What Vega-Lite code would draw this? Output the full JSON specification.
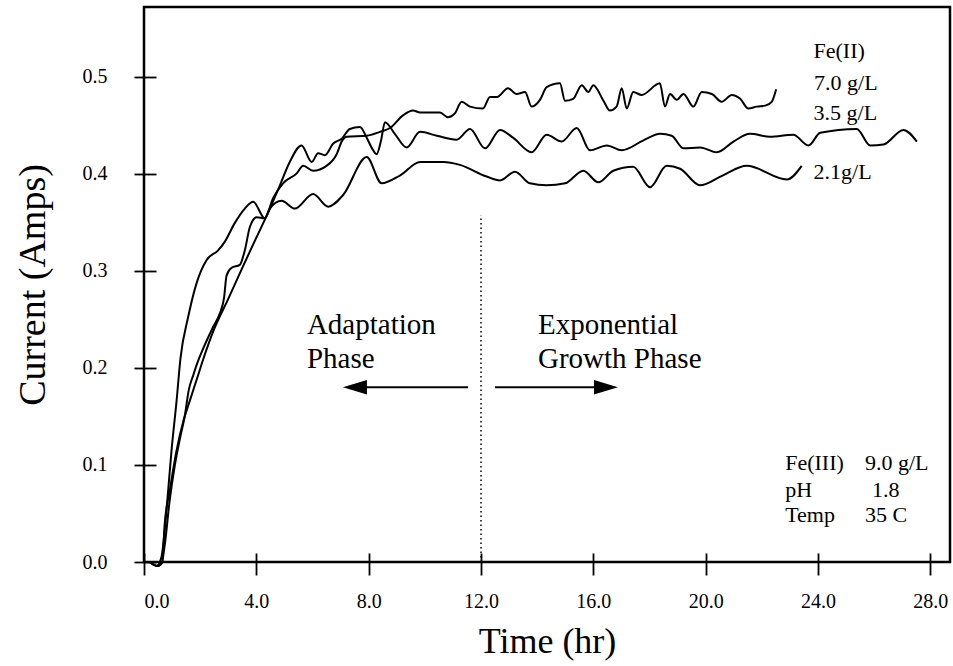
{
  "$schema": "https://vega.github.io/schema/vega-lite/v6.json",
  "width": 806,
  "height": 555,
  "autosize": {"type": "none"},
  "padding": {"left": 144, "top": 7, "right": 3, "bottom": 104},
  "background": "white",
  "config": {
    "view": {"stroke": "black", "strokeWidth": 2.5},
    "font": "Liberation Serif",
    "axis": {"labelFont": "Liberation Serif", "titleFont": "Liberation Serif", "labelColor": "black", "titleColor": "black", "titleFontWeight": "normal", "tickColor": "black", "grid": false}
  },
  "datasets": {
    "curves": [
      {"s": "7.0", "t": 0.2, "i": 0.0}, {"s": "7.0", "t": 0.45, "i": -0.004}, {"s": "7.0", "t": 0.62, "i": -0.002}, {"s": "7.0", "t": 0.75, "i": 0.02}, {"s": "7.0", "t": 0.9, "i": 0.06}, {"s": "7.0", "t": 1.1, "i": 0.1}, {"s": "7.0", "t": 1.3, "i": 0.13}, {"s": "7.0", "t": 1.45, "i": 0.15}, {"s": "7.0", "t": 1.6, "i": 0.178}, {"s": "7.0", "t": 1.75, "i": 0.192}, {"s": "7.0", "t": 1.9, "i": 0.205}, {"s": "7.0", "t": 2.05, "i": 0.216}, {"s": "7.0", "t": 2.46, "i": 0.242}, {"s": "7.0", "t": 2.7, "i": 0.256}, {"s": "7.0", "t": 2.85, "i": 0.272}, {"s": "7.0", "t": 2.94, "i": 0.295}, {"s": "7.0", "t": 3.12, "i": 0.303}, {"s": "7.0", "t": 3.41, "i": 0.306}, {"s": "7.0", "t": 3.59, "i": 0.321}, {"s": "7.0", "t": 3.77, "i": 0.345}, {"s": "7.0", "t": 4.01, "i": 0.355}, {"s": "7.0", "t": 4.3, "i": 0.354}, {"s": "7.0", "t": 4.6, "i": 0.375}, {"s": "7.0", "t": 4.95, "i": 0.39}, {"s": "7.0", "t": 5.43, "i": 0.4}, {"s": "7.0", "t": 5.67, "i": 0.408}, {"s": "7.0", "t": 6.02, "i": 0.403}, {"s": "7.0", "t": 6.5, "i": 0.408}, {"s": "7.0", "t": 6.86, "i": 0.42}, {"s": "7.0", "t": 7.04, "i": 0.433}, {"s": "7.0", "t": 7.21, "i": 0.438}, {"s": "7.0", "t": 7.93, "i": 0.439}, {"s": "7.0", "t": 8.4, "i": 0.443}, {"s": "7.0", "t": 8.76, "i": 0.447}, {"s": "7.0", "t": 9.22, "i": 0.46}, {"s": "7.0", "t": 9.58, "i": 0.465}, {"s": "7.0", "t": 9.83, "i": 0.463}, {"s": "7.0", "t": 10.54, "i": 0.463}, {"s": "7.0", "t": 10.82, "i": 0.458}, {"s": "7.0", "t": 11.07, "i": 0.462}, {"s": "7.0", "t": 11.31, "i": 0.474}, {"s": "7.0", "t": 11.61, "i": 0.469}, {"s": "7.0", "t": 12.07, "i": 0.467}, {"s": "7.0", "t": 12.32, "i": 0.479}, {"s": "7.0", "t": 12.57, "i": 0.479}, {"s": "7.0", "t": 12.96, "i": 0.488}, {"s": "7.0", "t": 13.27, "i": 0.482}, {"s": "7.0", "t": 13.57, "i": 0.484}, {"s": "7.0", "t": 13.8, "i": 0.469}, {"s": "7.0", "t": 14.1, "i": 0.476}, {"s": "7.0", "t": 14.34, "i": 0.489}, {"s": "7.0", "t": 14.81, "i": 0.493}, {"s": "7.0", "t": 14.99, "i": 0.475}, {"s": "7.0", "t": 15.28, "i": 0.477}, {"s": "7.0", "t": 15.59, "i": 0.491}, {"s": "7.0", "t": 15.82, "i": 0.484}, {"s": "7.0", "t": 16.0, "i": 0.491}, {"s": "7.0", "t": 16.36, "i": 0.475}, {"s": "7.0", "t": 16.59, "i": 0.465}, {"s": "7.0", "t": 16.83, "i": 0.469}, {"s": "7.0", "t": 17.01, "i": 0.488}, {"s": "7.0", "t": 17.19, "i": 0.467}, {"s": "7.0", "t": 17.42, "i": 0.484}, {"s": "7.0", "t": 17.72, "i": 0.481}, {"s": "7.0", "t": 18.37, "i": 0.493}, {"s": "7.0", "t": 18.55, "i": 0.469}, {"s": "7.0", "t": 18.73, "i": 0.482}, {"s": "7.0", "t": 18.97, "i": 0.476}, {"s": "7.0", "t": 19.21, "i": 0.482}, {"s": "7.0", "t": 19.56, "i": 0.469}, {"s": "7.0", "t": 19.86, "i": 0.484}, {"s": "7.0", "t": 20.22, "i": 0.482}, {"s": "7.0", "t": 20.57, "i": 0.474}, {"s": "7.0", "t": 20.93, "i": 0.481}, {"s": "7.0", "t": 21.23, "i": 0.477}, {"s": "7.0", "t": 21.52, "i": 0.467}, {"s": "7.0", "t": 21.82, "i": 0.469}, {"s": "7.0", "t": 22.12, "i": 0.47}, {"s": "7.0", "t": 22.35, "i": 0.474}, {"s": "7.0", "t": 22.51, "i": 0.487},
      {"s": "3.5", "t": 0.2, "i": 0.0}, {"s": "3.5", "t": 0.5, "i": -0.004}, {"s": "3.5", "t": 0.65, "i": 0.0}, {"s": "3.5", "t": 0.74, "i": 0.04}, {"s": "3.5", "t": 0.92, "i": 0.074}, {"s": "3.5", "t": 1.16, "i": 0.115}, {"s": "3.5", "t": 1.4, "i": 0.145}, {"s": "3.5", "t": 1.63, "i": 0.166}, {"s": "3.5", "t": 1.9, "i": 0.19}, {"s": "3.5", "t": 2.1, "i": 0.208}, {"s": "3.5", "t": 2.5, "i": 0.24}, {"s": "3.5", "t": 3.0, "i": 0.271}, {"s": "3.5", "t": 3.5, "i": 0.303}, {"s": "3.5", "t": 4.0, "i": 0.334}, {"s": "3.5", "t": 4.5, "i": 0.365}, {"s": "3.5", "t": 4.84, "i": 0.388}, {"s": "3.5", "t": 5.19, "i": 0.412}, {"s": "3.5", "t": 5.61, "i": 0.429}, {"s": "3.5", "t": 5.97, "i": 0.412}, {"s": "3.5", "t": 6.2, "i": 0.421}, {"s": "3.5", "t": 6.44, "i": 0.419}, {"s": "3.5", "t": 6.74, "i": 0.431}, {"s": "3.5", "t": 7.04, "i": 0.436}, {"s": "3.5", "t": 7.33, "i": 0.446}, {"s": "3.5", "t": 7.69, "i": 0.448}, {"s": "3.5", "t": 7.93, "i": 0.437}, {"s": "3.5", "t": 8.12, "i": 0.426}, {"s": "3.5", "t": 8.28, "i": 0.42}, {"s": "3.5", "t": 8.44, "i": 0.434}, {"s": "3.5", "t": 8.58, "i": 0.453}, {"s": "3.5", "t": 8.93, "i": 0.441}, {"s": "3.5", "t": 9.35, "i": 0.427}, {"s": "3.5", "t": 9.83, "i": 0.443}, {"s": "3.5", "t": 10.43, "i": 0.439}, {"s": "3.5", "t": 11.13, "i": 0.435}, {"s": "3.5", "t": 11.61, "i": 0.446}, {"s": "3.5", "t": 12.14, "i": 0.426}, {"s": "3.5", "t": 12.68, "i": 0.445}, {"s": "3.5", "t": 13.14, "i": 0.437}, {"s": "3.5", "t": 13.8, "i": 0.422}, {"s": "3.5", "t": 14.34, "i": 0.44}, {"s": "3.5", "t": 14.87, "i": 0.433}, {"s": "3.5", "t": 15.41, "i": 0.447}, {"s": "3.5", "t": 15.88, "i": 0.424}, {"s": "3.5", "t": 16.48, "i": 0.429}, {"s": "3.5", "t": 17.01, "i": 0.424}, {"s": "3.5", "t": 17.77, "i": 0.434}, {"s": "3.5", "t": 18.38, "i": 0.441}, {"s": "3.5", "t": 18.79, "i": 0.439}, {"s": "3.5", "t": 19.21, "i": 0.426}, {"s": "3.5", "t": 19.8, "i": 0.427}, {"s": "3.5", "t": 20.4, "i": 0.422}, {"s": "3.5", "t": 20.99, "i": 0.433}, {"s": "3.5", "t": 21.58, "i": 0.441}, {"s": "3.5", "t": 22.29, "i": 0.438}, {"s": "3.5", "t": 23.12, "i": 0.44}, {"s": "3.5", "t": 23.66, "i": 0.429}, {"s": "3.5", "t": 24.08, "i": 0.442}, {"s": "3.5", "t": 25.38, "i": 0.446}, {"s": "3.5", "t": 25.86, "i": 0.429}, {"s": "3.5", "t": 26.33, "i": 0.43}, {"s": "3.5", "t": 27.04, "i": 0.445}, {"s": "3.5", "t": 27.52, "i": 0.433},
      {"s": "2.1", "t": 0.2, "i": 0.0}, {"s": "2.1", "t": 0.45, "i": -0.004}, {"s": "2.1", "t": 0.62, "i": 0.005}, {"s": "2.1", "t": 0.8, "i": 0.053}, {"s": "2.1", "t": 0.98, "i": 0.115}, {"s": "2.1", "t": 1.16, "i": 0.166}, {"s": "2.1", "t": 1.3, "i": 0.21}, {"s": "2.1", "t": 1.57, "i": 0.252}, {"s": "2.1", "t": 1.87, "i": 0.287}, {"s": "2.1", "t": 2.23, "i": 0.311}, {"s": "2.1", "t": 2.64, "i": 0.321}, {"s": "2.1", "t": 2.88, "i": 0.33}, {"s": "2.1", "t": 3.23, "i": 0.349}, {"s": "2.1", "t": 3.59, "i": 0.364}, {"s": "2.1", "t": 3.89, "i": 0.371}, {"s": "2.1", "t": 4.3, "i": 0.354}, {"s": "2.1", "t": 4.48, "i": 0.364}, {"s": "2.1", "t": 4.9, "i": 0.372}, {"s": "2.1", "t": 5.37, "i": 0.364}, {"s": "2.1", "t": 6.02, "i": 0.379}, {"s": "2.1", "t": 6.56, "i": 0.366}, {"s": "2.1", "t": 7.09, "i": 0.378}, {"s": "2.1", "t": 7.93, "i": 0.417}, {"s": "2.1", "t": 8.46, "i": 0.39}, {"s": "2.1", "t": 9.11, "i": 0.398}, {"s": "2.1", "t": 9.83, "i": 0.412}, {"s": "2.1", "t": 10.66, "i": 0.412}, {"s": "2.1", "t": 11.25, "i": 0.409}, {"s": "2.1", "t": 12.2, "i": 0.397}, {"s": "2.1", "t": 12.68, "i": 0.393}, {"s": "2.1", "t": 13.21, "i": 0.402}, {"s": "2.1", "t": 13.74, "i": 0.39}, {"s": "2.1", "t": 14.34, "i": 0.388}, {"s": "2.1", "t": 15.0, "i": 0.39}, {"s": "2.1", "t": 15.64, "i": 0.403}, {"s": "2.1", "t": 16.18, "i": 0.391}, {"s": "2.1", "t": 16.71, "i": 0.403}, {"s": "2.1", "t": 17.42, "i": 0.407}, {"s": "2.1", "t": 18.02, "i": 0.386}, {"s": "2.1", "t": 18.61, "i": 0.408}, {"s": "2.1", "t": 19.09, "i": 0.405}, {"s": "2.1", "t": 19.8, "i": 0.388}, {"s": "2.1", "t": 20.6, "i": 0.398}, {"s": "2.1", "t": 21.46, "i": 0.408}, {"s": "2.1", "t": 22.89, "i": 0.394}, {"s": "2.1", "t": 23.42, "i": 0.408}
    ]
  },
  "layer": [
    {
      "data": {"name": "curves"},
      "mark": {"type": "line", "interpolate": "monotone", "color": "black", "strokeWidth": 2},
      "encoding": {
        "x": {"field": "t", "type": "quantitative", "scale": {"domain": [0, 28.7], "nice": false, "zero": false},
          "axis": {"values": [0, 4, 8, 12, 16, 20, 24, 28], "format": ".1f", "title": "Time (hr)", "offset": -9, "tickSize": 22, "tickWidth": 1.8, "domain": false, "labelFontSize": 20, "labelPadding": 16, "titleFontSize": 36, "titlePadding": 13}},
        "y": {"field": "i", "type": "quantitative", "scale": {"domain": [0, 0.5716], "nice": false, "zero": false},
          "axis": {"values": [0, 0.1, 0.2, 0.3, 0.4, 0.5], "format": ".1f", "title": "Current (Amps)", "offset": -12, "tickSize": 22, "tickWidth": 1.8, "domain": false, "labelFontSize": 20, "labelPadding": 27, "titleFontSize": 38, "titlePadding": 30}},
        "detail": {"field": "s"}
      }
    },
    {
      "data": {"values": [{"x": 12, "y": 0, "y2": 0.357}]},
      "mark": {"type": "rule", "color": "black", "strokeWidth": 1.5, "strokeDash": [1.5, 3]},
      "encoding": {"x": {"field": "x", "type": "quantitative"}, "y": {"field": "y", "type": "quantitative"}, "y2": {"field": "y2"}}
    },
    {
      "data": {"values": [{"x": 11.54, "x2": 7.8, "y": 0.18}, {"x": 12.5, "x2": 16.2, "y": 0.18}]},
      "mark": {"type": "rule", "color": "black", "strokeWidth": 2},
      "encoding": {"x": {"field": "x", "type": "quantitative"}, "x2": {"field": "x2"}, "y": {"field": "y", "type": "quantitative"}}
    },
    {
      "data": {"values": [{"x": 7.51, "y": 0.18, "dir": "left"}, {"x": 16.45, "y": 0.18, "dir": "right"}]},
      "mark": {"type": "point", "filled": true, "color": "black", "size": 576, "opacity": 1},
      "encoding": {"x": {"field": "x", "type": "quantitative"}, "y": {"field": "y", "type": "quantitative"},
        "shape": {"field": "dir", "type": "nominal", "scale": {"domain": ["left", "right"], "range": ["M -1 0 L 1 -0.6 L 1 0.6 Z", "M 1 0 L -1 -0.6 L -1 0.6 Z"]}, "legend": null}}
    },
    {
      "data": {"values": [
        {"x": 23.84, "y": 0.5195, "label": "Fe(II)"},
        {"x": 23.86, "y": 0.4858, "label": "7.0 g/L"},
        {"x": 23.84, "y": 0.4549, "label": "3.5 g/L"},
        {"x": 23.84, "y": 0.3948, "label": "2.1g/L"},
        {"x": 22.83, "y": 0.0944, "label": "Fe(III)"},
        {"x": 25.67, "y": 0.0944, "label": "9.0 g/L"},
        {"x": 22.83, "y": 0.0669, "label": "pH"},
        {"x": 25.92, "y": 0.0669, "label": "1.8"},
        {"x": 22.83, "y": 0.0412, "label": "Temp"},
        {"x": 25.67, "y": 0.0412, "label": "35 C"}
      ]},
      "mark": {"type": "text", "align": "left", "baseline": "alphabetic", "fontSize": 22, "font": "Liberation Serif", "color": "black"},
      "encoding": {"x": {"field": "x", "type": "quantitative"}, "y": {"field": "y", "type": "quantitative"}, "text": {"field": "label"}}
    },
    {
      "data": {"values": [
        {"x": 5.8, "y": 0.2345, "label": "Adaptation"},
        {"x": 5.8, "y": 0.1995, "label": "Phase"},
        {"x": 14.03, "y": 0.2345, "label": "Exponential"},
        {"x": 14.03, "y": 0.1995, "label": "Growth Phase"}
      ]},
      "mark": {"type": "text", "align": "left", "baseline": "alphabetic", "fontSize": 29, "font": "Liberation Serif", "color": "black"},
      "encoding": {"x": {"field": "x", "type": "quantitative"}, "y": {"field": "y", "type": "quantitative"}, "text": {"field": "label"}}
    }
  ]
}
